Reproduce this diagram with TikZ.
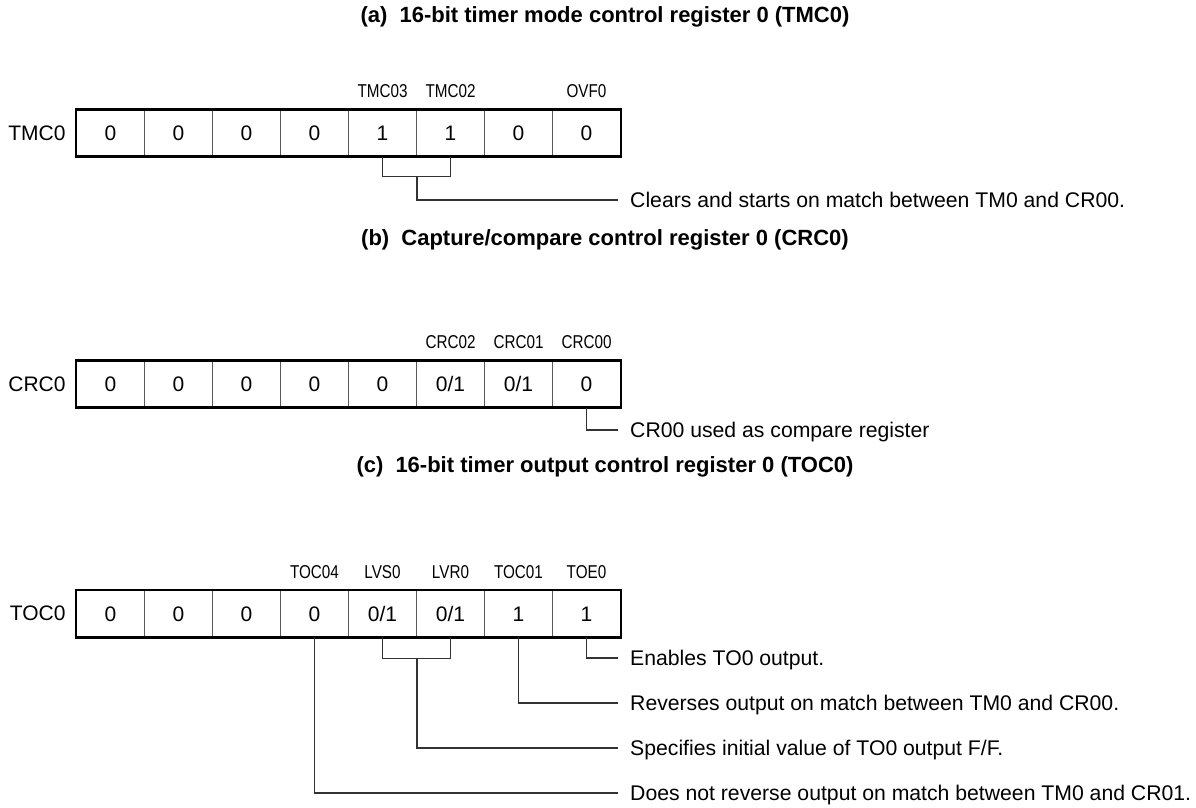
\documentclass[tikz,border=0pt]{standalone}
\usepackage{fontspec}
\setmainfont{Liberation Sans}
\setsansfont{Liberation Sans}
\newfontfamily\narrowfont[FakeStretch=0.82]{Liberation Sans}
\usepackage{tikz}
\usetikzlibrary{positioning,fit}

\begin{document}
\begin{tikzpicture}[
  x=1pt, y=-1pt,
  cell/.style={rectangle, draw=black!65, line width=0.9pt, minimum width=68pt, minimum height=46.5pt, inner sep=0pt, text height=15pt, text depth=0pt, font=\fontsize{21}{25}\selectfont},
  regbox/.style={rectangle, draw, line width=2.6pt, inner sep=0pt},
  regname/.style={inner sep=0pt, font=\fontsize{21}{25}\selectfont},
  bitname/.style={inner sep=0pt, font=\narrowfont\fontsize{18.6}{22}\selectfont},
  heading/.style={inner sep=0pt, font=\bfseries\fontsize{22}{26}\selectfont},
  note/.style={anchor=west, inner xsep=12pt, inner ysep=0pt, text height=15pt, text depth=0pt, font=\fontsize{21.2}{25}\selectfont},
  lead/.style={draw=black!80, line width=1.1pt}
]
  \useasboundingbox (0,0) rectangle (1196,808);

  % (a) TMC0
  \node[heading] (ttla) at (605,17) {(a)\hspace{0.55em}16-bit timer mode control register 0 (TMC0)};
  \foreach \v [count=\i] in {0,0,0,0,1,1,0,0}
    \node[cell] (tmc\i) at ({76.5+68*\i-34},133) {\v};
  \node[regbox, fit=(tmc1)(tmc8)] (tmcbox) {};
  \node[regname, left=9pt of tmcbox] (tmcname) {TMC0};
  \node[bitname, above=11pt of tmc5] (tmc03) {TMC03};
  \node[bitname, above=11pt of tmc6] (tmc02) {TMC02};
  \node[bitname, above=11pt of tmc8] (ovf0) {OVF0};

  \node[note] (tmcnote) at (618,200) {Clears and starts on match between TM0 and CR00.};
  \coordinate (tmcj) at ([yshift=-20pt]tmc5.south east);
  \draw[lead] (tmc5.south) |- (tmcj) -| (tmc6.south);
  \draw[lead] (tmcj) |- (tmcnote.west);

  % (b) CRC0
  \node[heading] (ttlb) at (605,240) {(b)\hspace{0.55em}Capture/compare control register 0 (CRC0)};
  \foreach \v [count=\i] in {0,0,0,0,0,0/1,0/1,0}
    \node[cell] (crc\i) at ({76.5+68*\i-34},384) {\v};
  \node[regbox, fit=(crc1)(crc8)] (crcbox) {};
  \node[regname, left=9pt of crcbox] (crcname) {CRC0};
  \node[bitname, above=11pt of crc6] (crc02) {CRC02};
  \node[bitname, above=11pt of crc7] (crc01) {CRC01};
  \node[bitname, above=11pt of crc8] (crc00) {CRC00};

  \node[note] (crcnote) at (618,430) {CR00 used as compare register};
  \draw[lead] (crc8.south) |- (crcnote.west);

  % (c) TOC0
  \node[heading] (ttlc) at (605,467) {(c)\hspace{0.55em}16-bit timer output control register 0 (TOC0)};
  \foreach \v [count=\i] in {0,0,0,0,0/1,0/1,1,1}
    \node[cell] (toc\i) at ({76.5+68*\i-34},613.5) {\v};
  \node[regbox, fit=(toc1)(toc8)] (tocbox) {};
  \node[regname, left=9pt of tocbox] (tocname) {TOC0};
  \node[bitname, above=11pt of toc4] (toc04) {TOC04};
  \node[bitname, above=11pt of toc5] (lvs0) {LVS0};
  \node[bitname, above=11pt of toc6] (lvr0) {LVR0};
  \node[bitname, above=11pt of toc7] (toc01) {TOC01};
  \node[bitname, above=11pt of toc8] (toe0) {TOE0};

  \node[note] (tocnote1) at (618,658) {Enables TO0 output.};
  \node[note] (tocnote2) at (618,703) {Reverses output on match between TM0 and CR00.};
  \node[note] (tocnote3) at (618,748) {Specifies initial value of TO0 output F/F.};
  \node[note] (tocnote4) at (618,793) {Does not reverse output on match between TM0 and CR01.};
  \coordinate (tocj) at ([yshift=-21.5pt]toc5.south east);
  \draw[lead] (toc8.south) |- (tocnote1.west);
  \draw[lead] (toc7.south) |- (tocnote2.west);
  \draw[lead] (toc5.south) |- (tocj) -| (toc6.south);
  \draw[lead] (tocj) |- (tocnote3.west);
  \draw[lead] (toc4.south) |- (tocnote4.west);
\end{tikzpicture}
\end{document}
